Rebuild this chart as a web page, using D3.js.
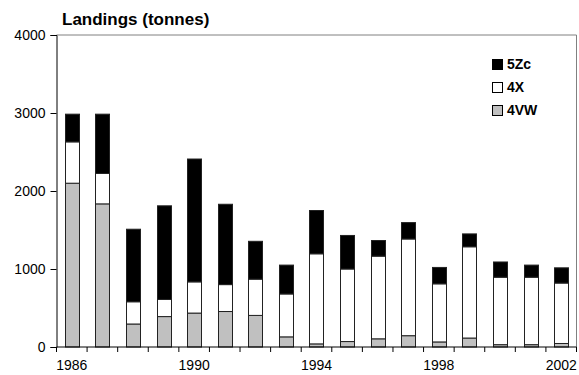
<!DOCTYPE html>
<html><head><meta charset="utf-8">
<script src="https://cdn.jsdelivr.net/npm/d3@7"></script>
<style>body{margin:0;background:#fff}svg{display:block}text{font-family:"Liberation Sans",Arial,sans-serif}</style>
</head><body><svg id="c" width="579" height="375"></svg>
<script>
const years = [1986,1987,1988,1989,1990,1991,1992,1993,1994,1995,1996,1997,1998,1999,2000,2001,2002];
const v4VW = [2100,1835,295,390,435,455,405,130,40,70,105,145,65,115,30,30,45];
const v4X  = [530,390,285,220,400,345,465,550,1155,930,1060,1240,745,1170,865,865,775];
const v5Zc = [355,760,930,1200,1575,1030,485,370,555,430,200,210,210,165,195,155,195];
const seriesNames = ["4VW","4X","5Zc"];
const seriesColors = ["#c0c0c0","#ffffff","#000000"];
const yTicks = [0,1000,2000,3000,4000];
const xLabelYears = [1986,1990,1994,1998,2002];
const title = "Landings (tonnes)";

const svg = d3.select("#c");
const m = {l:56.5, r:2.5, t:35, b:28};
const W = 579, H = 375;
const x = d3.scaleBand().domain(years).range([m.l, W-m.r]).paddingInner(0.54).paddingOuter(0.27);
const xb = d3.scaleLinear().domain([0, years.length]).range([m.l, W-m.r]);
const y = d3.scaleLinear().domain([0,4000]).range([H-m.b, m.t]);

const rows = years.map((yr,i)=>({year:yr, "4VW":v4VW[i], "4X":v4X[i], "5Zc":v5Zc[i]}));
const stack = d3.stack().keys(seriesNames)(rows);

svg.append("line").attr("x1",m.l).attr("x2",W-m.r).attr("y1",y(4000)).attr("y2",y(4000)).attr("stroke","#808080");
svg.append("line").attr("x1",W-m.r).attr("x2",W-m.r).attr("y1",y(4000)).attr("y2",y(0)).attr("stroke","#808080");

stack.forEach((s,k)=>{
  svg.append("g").selectAll("rect").data(s).join("rect")
    .attr("x", d=>Math.round(x(d.data.year))+0.5)
    .attr("width", Math.round(x.bandwidth()))
    .attr("y", d=>y(d[1]))
    .attr("height", d=>y(d[0])-y(d[1]))
    .attr("fill", seriesColors[k])
    .attr("stroke", "#222").attr("stroke-width",1);
});

const ya = svg.append("g").attr("transform",`translate(${m.l},0)`)
  .call(d3.axisLeft(y).tickValues(yTicks).tickFormat(d3.format("d")).tickSize(6).tickPadding(5));
ya.select(".domain").attr("stroke","#000");
ya.selectAll("text").attr("font-size",14).attr("fill","#000").attr("font-family","Liberation Sans, Arial, sans-serif");

const xa = svg.append("g").attr("transform",`translate(0,${y(0)})`);
xa.append("line").attr("x1",m.l).attr("x2",W-m.r).attr("stroke","#000");
xa.selectAll("line.t").data(d3.range(years.length+1)).join("line").attr("class","t")
  .attr("x1",d=>xb(d)).attr("x2",d=>xb(d)).attr("y1",0).attr("y2",5).attr("stroke","#000");
xa.selectAll("text").data(xLabelYears).join("text")
  .attr("x",d=>x(d)+x.bandwidth()/2).attr("y",23).attr("text-anchor","middle")
  .attr("font-size",14).text(d=>d);

svg.append("text").attr("x",62).attr("y",25).attr("font-size",17).attr("font-weight","bold").text(title);

const leg = [...seriesNames].reverse();
const legC = [...seriesColors].reverse();
leg.forEach((n,i)=>{
  const g = svg.append("g").attr("transform",`translate(492,${59+i*23})`);
  g.append("rect").attr("x",0.5).attr("y",0.5).attr("width",10).attr("height",10).attr("fill",legC[i]).attr("stroke","#000");
  g.append("text").attr("x",15).attr("y",10).attr("font-size",14).attr("font-weight","bold").text(n);
});
</script></body></html>
